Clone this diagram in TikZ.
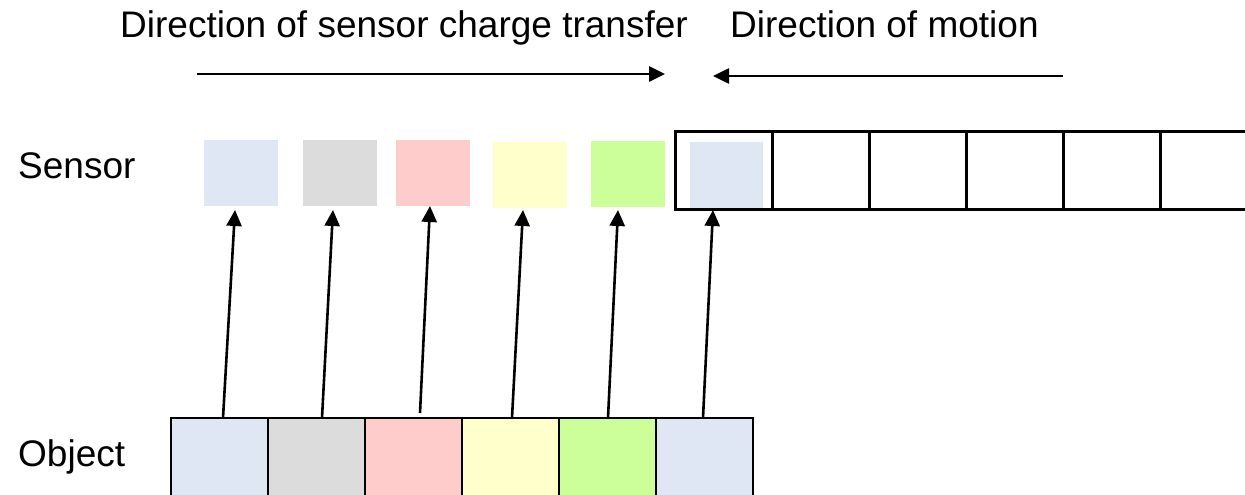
\documentclass[tikz,border=0pt]{standalone}
\usepackage{fontspec}
\setmainfont{Liberation Sans}
\usetikzlibrary{arrows.meta,calc}
\definecolor{cblue}{HTML}{DEE7F3}
\definecolor{cgray}{HTML}{DCDCDC}
\definecolor{cpink}{HTML}{FFCCCC}
\definecolor{cyel}{HTML}{FFFFCC}
\definecolor{cgreen}{HTML}{CCFF99}
\tikzset{
  lbl/.style={anchor=base west,inner sep=0pt,font=\fontsize{37}{44}\selectfont},
  pix/.style={rectangle,inner sep=0pt,outer sep=0pt,minimum width=74pt,minimum height=66pt,anchor=north west},
  gcell/.style={rectangle,draw=black,line width=3pt,inner sep=0pt,outer sep=0pt,minimum width=97pt,minimum height=78pt,anchor=north west},
  ocell/.style={rectangle,draw=black,line width=2.5pt,inner sep=0pt,outer sep=0pt,minimum width=97pt,minimum height=100pt,anchor=north west},
  arr/.style={line width=2.6pt,-{Triangle[length=16pt,width=15pt]}}
}
\begin{document}
\begin{tikzpicture}[x=1pt,y=-1pt]
\useasboundingbox (0,0) rectangle (1245,495);
\clip (0,0) rectangle (1245,495);
% labels
\node[lbl] (t1) at (120,38) {Direction of sensor charge transfer};
\node[lbl] (t2) at (730,38) {Direction of motion};
\node[lbl] (ls) at (18,178) {Sensor};
\node[lbl] (lo) at (18,466) {Object};
% top arrows
\coordinate (a1s) at (197,74);
\coordinate (a1e) at (665,74);
\coordinate (a2s) at (1063,76);
\coordinate (a2e) at (713,76);
\draw[arr] (a1s) -- (a1e);
\draw[arr] (a2s) -- (a2e);
% sensor grid
\foreach \i/\x in {1/675,2/772,3/869,4/966,5/1063,6/1160}
  \node[gcell] (g\i) at (\x,131) {};
\node[gcell,minimum width=120pt] (g7) at (1160,131) {};
% sensor pixels
\node[pix,fill=cblue] (s1) at (204,140) {};
\node[pix,fill=cgray] (s2) at (303,140) {};
\node[pix,fill=cpink] (s3) at (396,140) {};
\node[pix,fill=cyel] (s4) at (493,142) {};
\node[pix,fill=cgreen] (s5) at (591,141) {};
\node[pix,fill=cblue,minimum width=73pt] (s6) at (690,142) {};
% object cells
\node[ocell,fill=cblue] (o1) at (171,418) {};
\node[ocell,fill=cgray] (o2) at (268,418) {};
\node[ocell,fill=cpink] (o3) at (365,418) {};
\node[ocell,fill=cyel] (o4) at (462,418) {};
\node[ocell,fill=cgreen] (o5) at (559,418) {};
\node[ocell,fill=cblue] (o6) at (656,418) {};
% arrows from object to sensor
\draw[arr] ([xshift=3.5pt]o1.north) -- ([shift={(-6,4)}]s1.south);
\draw[arr] ([xshift=5.5pt]o2.north) -- ([shift={(-7,4)}]s2.south);
\draw[arr] ([shift={(6.5,-5)}]o3.north) -- ([shift={(-3,0)}]s3.south);
\draw[arr] ([xshift=1.5pt]o4.north) -- ([shift={(-7,2)}]s4.south);
\draw[arr] ([xshift=0.5pt]o5.north) -- ([shift={(-10,3)}]s5.south);
\draw[arr] ([xshift=-1.5pt]o6.north) -- ([shift={(-13.5,2)}]s6.south);
\end{tikzpicture}
\end{document}
